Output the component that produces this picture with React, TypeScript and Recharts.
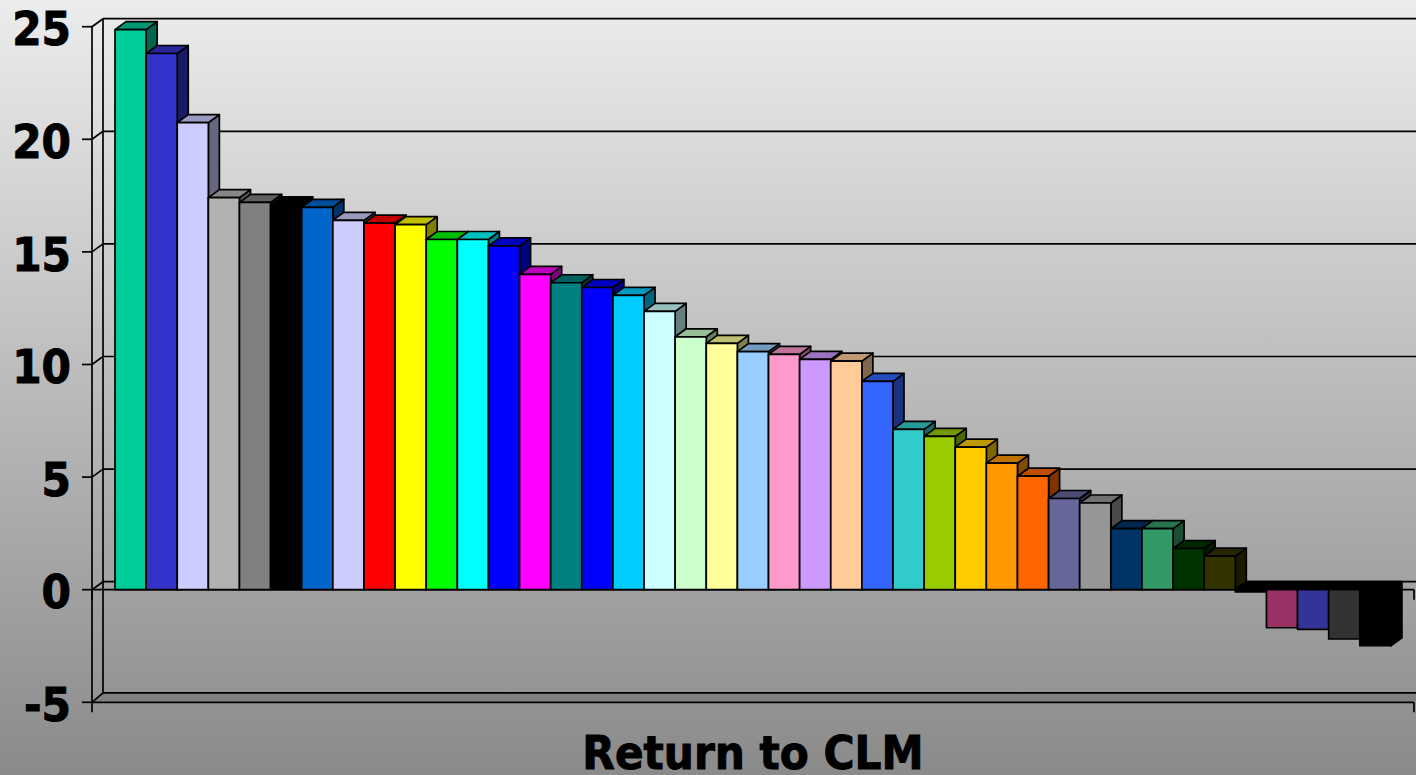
import React from "react";
import { BarChart, Bar, XAxis, YAxis, CartesianGrid } from "recharts";

const categoryLabel = "Return to CLM";
const values = [
  24.87, 23.81, 20.74, 17.41, 17.2, 17.09, 16.98, 16.4, 16.28, 16.21, 15.55, 15.55, 15.27, 14.0,
  13.63, 13.42, 13.07, 12.36, 11.23, 10.94, 10.57, 10.45, 10.23, 10.15, 9.25, 7.12, 6.81, 6.33,
  5.62, 5.04, 4.05, 3.85, 2.71, 2.71, 1.83, 1.49, -0.1, -1.69, -1.76, -2.19, -2.49,
];
const colors = [
  "#00CC99", "#3333CC", "#CCCCFF", "#B2B2B2", "#808080", "#000000", "#0066CC", "#CCCCFF", "#FF0000",
  "#FFFF00", "#00FF00", "#00FFFF", "#0000FF", "#FF00FF", "#008080", "#0000FF", "#00CCFF", "#CCFFFF",
  "#CCFFCC", "#FFFF99", "#99CCFF", "#FF99CC", "#CC99FF", "#FFCC99", "#3366FF", "#33CCCC", "#99CC00",
  "#FFCC00", "#FF9900", "#FF6600", "#666699", "#969696", "#003366", "#339966", "#003300", "#333300",
  "#000000", "#993366", "#333399", "#333333", "#000000",
];
const yTicks = [-5, 0, 5, 10, 15, 20, 25];

const row: Record<string, string | number> = { name: categoryLabel };
values.forEach((v, i) => {
  row[`s${i}`] = v;
});
const data = [row];

const W = 1416;
const H = 775;
const LEFT = 92;
const RIGHT = 1414;
const TOP = 26.7;
const BOTTOM = 702.3;
const ZERO = BOTTOM - (BOTTOM - TOP) / 6;
const WALL_DX = 11;
const WALL_DY = 8;
const FLOOR_DY = 9.5;
const BAR_DX = 11;
const BAR_DY = 8;
const LINE = 1.7;
const FONT = "'DejaVu Sans', sans-serif";
const textStyle = {
  fontSize: 47,
  fontWeight: 700,
  fontFamily: FONT,
  fontStretch: "condensed",
  fill: "#000",
  stroke: "#000",
  strokeWidth: 0.9,
};

function shade(hex: string, k: number) {
  const n = parseInt(hex.slice(1), 16);
  const f = (c: number) => Math.round(c * k);
  return `rgb(${f((n >> 16) & 255)},${f((n >> 8) & 255)},${f(n & 255)})`;
}

function Bar3D(props: any) {
  const { x, y, width, height, color, neg } = props;
  const top = Math.min(y, y + height);
  const bottom = Math.max(y, y + height);
  const right = x + width;
  const common = { stroke: "#000", strokeWidth: LINE, strokeLinejoin: "round" as const };
  return (
    <g>
      <polygon
        points={`${right},${top} ${right + BAR_DX},${top - BAR_DY} ${right + BAR_DX},${bottom - BAR_DY} ${right},${bottom}`}
        fill={shade(color, 0.5)}
        {...common}
      />
      <polygon
        points={`${x},${top} ${x + BAR_DX},${top - BAR_DY} ${right + BAR_DX},${top - BAR_DY} ${right},${top}`}
        fill={neg ? "#000" : shade(color, 0.75)}
        {...common}
      />
      <rect x={x} y={top} width={width} height={Math.max(bottom - top, 0)} fill={color} {...common} />
    </g>
  );
}

function WallLine(props: any) {
  const { x1, y1, x2 } = props;
  const isBottom = Math.abs(y1 - BOTTOM) < 1;
  const isZero = Math.abs(y1 - ZERO) < 1;
  const isTop = Math.abs(y1 - TOP) < 1;
  const dy = isBottom ? FLOOR_DY : WALL_DY;
  const s = { stroke: "#000", strokeWidth: LINE };
  return (
    <g>
      {isBottom && (
        <polygon
          points={`${x1},${y1} ${x1 + WALL_DX},${y1 - dy} ${x2 + WALL_DX},${y1 - dy} ${x2},${y1}`}
          fill="#808080"
        />
      )}
      {isTop && <line x1={x1 + WALL_DX} y1={TOP - WALL_DY} x2={x1 + WALL_DX} y2={BOTTOM - FLOOR_DY} {...s} />}
      <line x1={x1} y1={y1} x2={x1 + WALL_DX} y2={y1 - dy} {...s} />
      <line x1={x1 + WALL_DX} y1={y1 - dy} x2={x2 + WALL_DX} y2={y1 - dy} {...s} />
      {isZero && <line x1={x1} y1={y1} x2={x2} y2={y1} {...s} />}
      {(isZero || isBottom) && (
        <>
          <line x1={x1} y1={y1} x2={x1} y2={y1 + 10} {...s} />
          <line x1={x2} y1={y1} x2={x2} y2={y1 + 10} {...s} />
        </>
      )}
    </g>
  );
}

export default function App() {
  return (
    <div
      style={{
        position: "absolute",
        left: 0,
        top: 0,
        width: W,
        height: H,
        overflow: "hidden",
        background: "linear-gradient(180deg, #ECECEC 0%, #8A8A8A 100%)",
      }}
    >
      <BarChart
        width={W}
        height={H}
        data={data}
        margin={{ top: TOP, right: W - RIGHT, bottom: 0, left: 0 }}
        barGap={0}
        barSize={31.12}
      >
        <CartesianGrid vertical={false} horizontal={(p: any) => <WallLine key={p.key ?? p.y1} {...p} />} />
        <XAxis
          dataKey="name"
          height={H - BOTTOM}
          tickLine={false}
          axisLine={{ stroke: "#000", strokeWidth: LINE }}
          tickMargin={27}
          tick={textStyle}
        />
        <YAxis
          width={LEFT}
          domain={[-5, 25]}
          ticks={yTicks}
          interval={0}
          tickSize={10}
          tickMargin={11}
          axisLine={{ stroke: "#000", strokeWidth: LINE }}
          tickLine={{ stroke: "#000", strokeWidth: LINE }}
          tick={{ ...textStyle, dy: 2 }}
        />
        {values.map((v, i) => (
          <Bar
            key={i}
            dataKey={`s${i}`}
            fill={colors[i]}
            isAnimationActive={false}
            shape={(p: any) => <Bar3D {...p} color={colors[i]} neg={v < 0} />}
          />
        ))}
      </BarChart>
    </div>
  );
}
